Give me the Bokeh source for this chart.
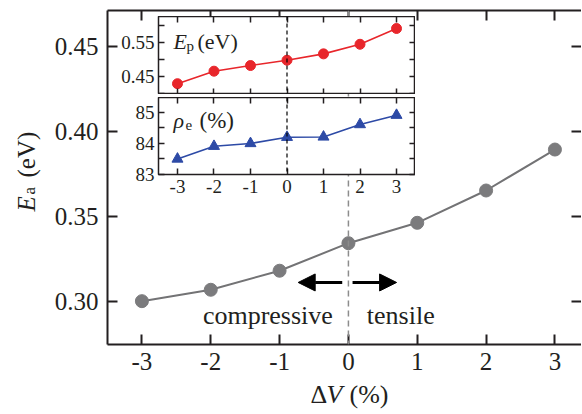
import math
from bokeh.plotting import figure
from bokeh.models import (Range1d, FixedTicker, NumeralTickFormatter, LinearAxis,
                          Span, Arrow, NormalHead, Label)
from bokeh.embed import file_html
from bokeh.resources import INLINE

# ---------------- data ----------------
strain = [-3, -2, -1, 0, 1, 2, 3]                                   # Delta V (%)
ea = [0.300, 0.3067, 0.3179, 0.3341, 0.3461, 0.3651, 0.3892]        # E_a (eV)
ep = [0.429, 0.4655, 0.482, 0.4975, 0.516, 0.544, 0.590]            # E_p (eV)
rho = [83.49, 83.9, 83.99, 84.19, 84.2, 84.6, 84.9]                 # rho_e (%)

x_ticks = [-3, -2, -1, 0, 1, 2, 3]
ea_ticks = [0.30, 0.35, 0.40, 0.45]
ep_ticks = [0.45, 0.55]
ep_minor = [0.40, 0.50, 0.60]
rho_ticks = [83, 84, 85]
rho_minor = [83.5, 84.5]

SERIF = "Liberation Serif"
INK = "#231f20"
GRAY = "#737375"
RED = "#e8262b"
BLUE = "#2d4aa6"


def place(fig, left, top, z):
    fig.styles = {"position": "absolute", "left": f"{left}px", "top": f"{top}px",
                  "z-index": str(z)}


def style_axis(ax, ticks, minor, fmt, size, standoff, tick_len,
               show_labels=True, lw=1.5, show_line=True):
    ax.ticker = FixedTicker(ticks=ticks, minor_ticks=minor)
    ax.formatter = NumeralTickFormatter(format=fmt)
    ax.major_tick_in = tick_len
    ax.major_tick_out = 0
    ax.minor_tick_in = tick_len if minor else 0
    ax.minor_tick_out = 0
    ax.major_tick_line_width = lw
    ax.minor_tick_line_width = lw
    ax.major_tick_line_color = INK
    ax.minor_tick_line_color = INK
    ax.axis_line_width = lw
    ax.axis_line_color = INK if show_line else None
    ax.axis_label = None
    if show_labels:
        ax.major_label_text_font = SERIF
        ax.major_label_text_font_size = f"{size}px"
        ax.major_label_text_color = INK
        ax.major_label_standoff = standoff
    else:
        ax.major_label_text_font_size = "0px"
        ax.major_label_text_alpha = 0
        ax.major_label_standoff = 0


# ---------------- main plot ----------------
p = figure(frame_width=474, frame_height=334,
           x_range=Range1d(-3.5, 3.386), y_range=Range1d(0.2745, 0.4710),
           output_backend="svg", toolbar_location=None,
           min_border_left=107, min_border_right=0, min_border_top=10,
           min_border_bottom=60)
place(p, 0, 0, 1)
p.outline_line_color = None
p.grid.visible = False
p.background_fill_color = "white"
p.border_fill_color = "white"

style_axis(p.xaxis[0], x_ticks, [], "0", 25, 8, 10, lw=2)
style_axis(p.yaxis[0], ea_ticks, [], "0.00", 25, 9, 10, lw=2)
top_ax = LinearAxis()
right_ax = LinearAxis()
p.add_layout(top_ax, "above")
p.add_layout(right_ax, "right")
style_axis(top_ax, x_ticks, [], "0", 0, 0, 10, show_labels=False, lw=2)
style_axis(right_ax, ea_ticks, [], "0.00", 0, 0, 10, show_labels=False, lw=2,
           show_line=False)

p.add_layout(Span(location=0, dimension="height", line_color="#8c8c8c",
                  line_dash="6 4", line_width=1.5))
p.line(strain, ea, line_color=GRAY, line_width=2)
p.scatter(strain, ea, size=13, fill_color="#7b7b7d", line_color="#7b7b7d")

p.add_layout(Arrow(end=NormalHead(size=17, fill_color="black", line_color="black"),
                   x_start=-0.09, y_start=0.311, x_end=-0.73, y_end=0.311,
                   line_width=3, line_color="black"))
p.add_layout(Arrow(end=NormalHead(size=17, fill_color="black", line_color="black"),
                   x_start=0.06, y_start=0.311, x_end=0.70, y_end=0.311,
                   line_width=3, line_color="black"))

for txt, xx in (("compressive", -1.17), ("tensile", 0.76)):
    p.add_layout(Label(x=xx, y=0.2916, text=txt, text_font=SERIF,
                       text_font_size="26px", text_align="center",
                       text_baseline="alphabetic", text_color=INK))


# ---------------- inset panels ----------------
def inset_panel(yr, height, yt, ymin, yfmt, bottom_labels, border_bottom):
    f = figure(frame_width=257, frame_height=height,
               x_range=Range1d(-3.52, 3.52), y_range=yr,
               output_backend="svg", toolbar_location=None,
               min_border_left=45, min_border_right=0, min_border_top=0,
               min_border_bottom=border_bottom)
    f.border_fill_color = None
    f.background_fill_color = "white"
    f.outline_line_color = INK
    f.outline_line_width = 1.5
    f.grid.visible = False
    style_axis(f.xaxis[0], x_ticks, [], "0", 19, 5, 6,
               show_labels=bottom_labels, show_line=False)
    style_axis(f.yaxis[0], yt, ymin, yfmt, 19, 4, 6, show_line=False)
    a = LinearAxis()
    r = LinearAxis()
    f.add_layout(a, "above")
    f.add_layout(r, "right")
    style_axis(a, x_ticks, [], "0", 0, 0, 6, show_labels=False, show_line=False)
    style_axis(r, yt, ymin, yfmt, 0, 0, 6, show_labels=False, show_line=False)
    f.add_layout(Span(location=0, dimension="height", line_color="black",
                      line_dash="4 3", line_width=1.2))
    return f


pt = inset_panel(Range1d(0.3975, 0.625), 78, ep_ticks, ep_minor, "0.00", False, 0)
place(pt, 158 - 45, 16, 2)
pt.line(strain, ep, line_color=RED, line_width=1.6)
pt.scatter(strain, ep, size=10, fill_color=RED, line_color=RED)
for txt, xo, yo, sz, st in (("E", 15, -25, "22px", "italic"),
                            ("p", 28, -29, "15px", "normal"),
                            ("(eV)", 39, -25, "22px", "normal")):
    pt.add_layout(Label(x=-3.52, y=0.625, x_offset=xo, y_offset=yo, text=txt,
                        text_font=SERIF, text_font_size=sz, text_font_style=st,
                        text_color=INK, text_align="left", text_baseline="alphabetic"))

pb = inset_panel(Range1d(82.99, 85.47), 77, rho_ticks, rho_minor, "0", True, 28)
place(pb, 158 - 45, 97, 3)
pb.line(strain, rho, line_color=BLUE, line_width=1.6)
pb.scatter(strain, rho, marker="triangle", size=11, fill_color=BLUE, line_color=BLUE)
for txt, xo, yo, sz, st in (("ρ", 15, -23, "22px", "italic"),
                            ("e", 27, -27, "15px", "normal"),
                            ("(%)", 41, -23, "23px", "normal")):
    pb.add_layout(Label(x=-3.52, y=85.47, x_offset=xo, y_offset=yo, text=txt,
                        text_font=SERIF, text_font_size=sz, text_font_style=st,
                        text_color=INK, text_align="left", text_baseline="alphabetic"))

# ---------------- overlay for the axis titles ----------------
OV_W, OV_H = 560, 414
ov = figure(frame_width=OV_W, frame_height=OV_H,
            x_range=Range1d(0, OV_W), y_range=Range1d(OV_H, 0),
            x_axis_location=None, y_axis_location=None,
            output_backend="svg", toolbar_location=None,
            min_border_left=0, min_border_right=0, min_border_top=0,
            min_border_bottom=0)
place(ov, 0, 0, 4)
ov.grid.visible = False
ov.outline_line_color = None
ov.background_fill_color = None
ov.border_fill_color = None

for txt, xx, yy, sz, st in (("E", 26, 211, "25px", "italic"),
                            ("a", 29, 194, "17px", "normal"),
                            ("(eV)", 26, 177, "25px", "normal")):
    ov.add_layout(Label(x=xx, y=yy, text=txt, angle=math.pi / 2,
                        text_font=SERIF, text_font_size=sz, text_font_style=st,
                        text_color=INK, text_align="left", text_baseline="alphabetic"))
for txt, xx, st in (("Δ", 310, "normal"), ("V", 326, "italic"), ("(%)", 349, "normal")):
    ov.add_layout(Label(x=xx, y=394, text=txt, text_font=SERIF, text_font_size="26px",
                        text_font_style=st, text_color=INK, text_align="left",
                        text_baseline="alphabetic"))

open("out.html", "w").write(file_html([p, pt, pb, ov], INLINE))
